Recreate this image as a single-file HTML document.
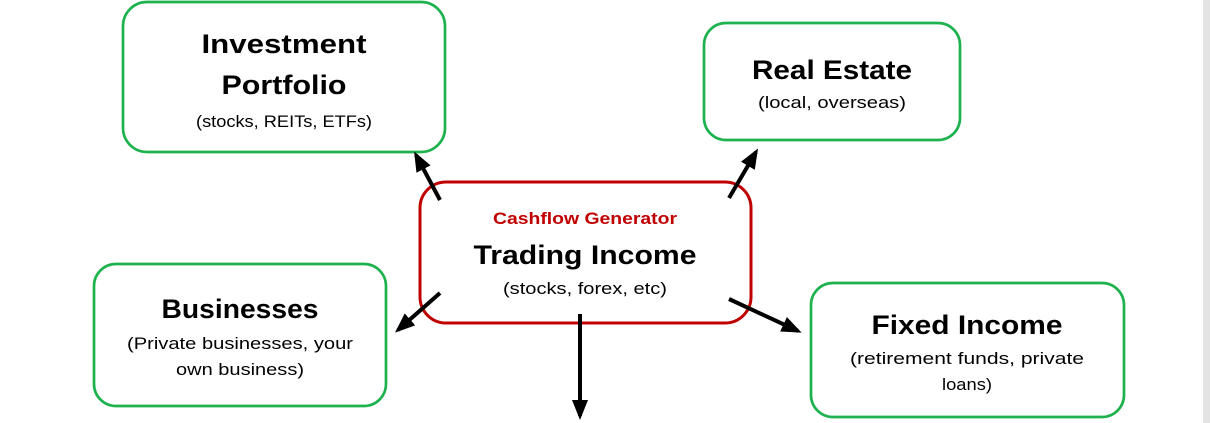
<!DOCTYPE html>
<html><head><meta charset="utf-8"><style>
html,body{margin:0;padding:0;background:#fff;}
svg{display:block;}
text{font-family:"Liberation Sans",sans-serif;text-anchor:middle;fill:#000;}
.t{font-weight:bold;font-size:27px;}
.s{font-size:17px;}
</style></head><body>
<svg width="1210" height="423" viewBox="0 0 1210 423" xmlns="http://www.w3.org/2000/svg">
<defs>
<marker id="b" viewBox="0 0 10 10" markerWidth="20" markerHeight="20" refX="8" refY="5" orient="auto" markerUnits="userSpaceOnUse"><path d="M0,1 L10,5 L0,9 Z" fill="#000"/></marker></defs>
<rect x="1203" y="0" width="7" height="423" fill="#e3e3e3"/>
<g fill="#fff" stroke="#1db24e" stroke-width="2.7">
<rect x="123" y="2" width="322" height="150" rx="24"/>
<rect x="704" y="23" width="256" height="117" rx="22"/>
<rect x="94" y="264" width="292" height="142" rx="22"/>
<rect x="811" y="283" width="313" height="134" rx="22"/>
</g>
<rect x="420" y="182" width="331" height="141" rx="26" fill="#fff" stroke="#c00000" stroke-width="3"/>
<g stroke="#000" stroke-width="4" marker-end="url(#b)">
<line x1="440" y1="200" x2="416" y2="155"/>
<line x1="729" y1="198" x2="756" y2="152"/>
<line x1="440" y1="293" x2="398" y2="330"/>
<line x1="729" y1="299" x2="798" y2="331"/>
<line x1="580" y1="314" x2="580" y2="416"/>
</g>
<text class="t" x="284" y="53" textLength="165" lengthAdjust="spacingAndGlyphs">Investment</text>
<text class="t" x="284" y="94" textLength="125" lengthAdjust="spacingAndGlyphs">Portfolio</text>
<text class="s" x="284" y="127" textLength="176" lengthAdjust="spacingAndGlyphs">(stocks, REITs, ETFs)</text>
<text class="t" x="832" y="79" textLength="160" lengthAdjust="spacingAndGlyphs">Real Estate</text>
<text class="s" x="832" y="108" textLength="148" lengthAdjust="spacingAndGlyphs">(local, overseas)</text>
<text x="585" y="224" style="fill:#c00000;font-weight:bold;font-size:17px" textLength="184" lengthAdjust="spacingAndGlyphs">Cashflow Generator</text>
<text class="t" x="585" y="264" textLength="223" lengthAdjust="spacingAndGlyphs">Trading Income</text>
<text class="s" x="585" y="294" textLength="164" lengthAdjust="spacingAndGlyphs">(stocks, forex, etc)</text>
<text class="t" x="240" y="318" textLength="157" lengthAdjust="spacingAndGlyphs">Businesses</text>
<text class="s" x="240" y="349" textLength="226" lengthAdjust="spacingAndGlyphs">(Private businesses, your</text>
<text class="s" x="240" y="375" textLength="128" lengthAdjust="spacingAndGlyphs">own business)</text>
<text class="t" x="967" y="334" textLength="191" lengthAdjust="spacingAndGlyphs">Fixed Income</text>
<text class="s" x="967" y="364" textLength="234" lengthAdjust="spacingAndGlyphs">(retirement funds, private</text>
<text class="s" x="967" y="390" textLength="50" lengthAdjust="spacingAndGlyphs">loans)</text>
</svg>
</body></html>
